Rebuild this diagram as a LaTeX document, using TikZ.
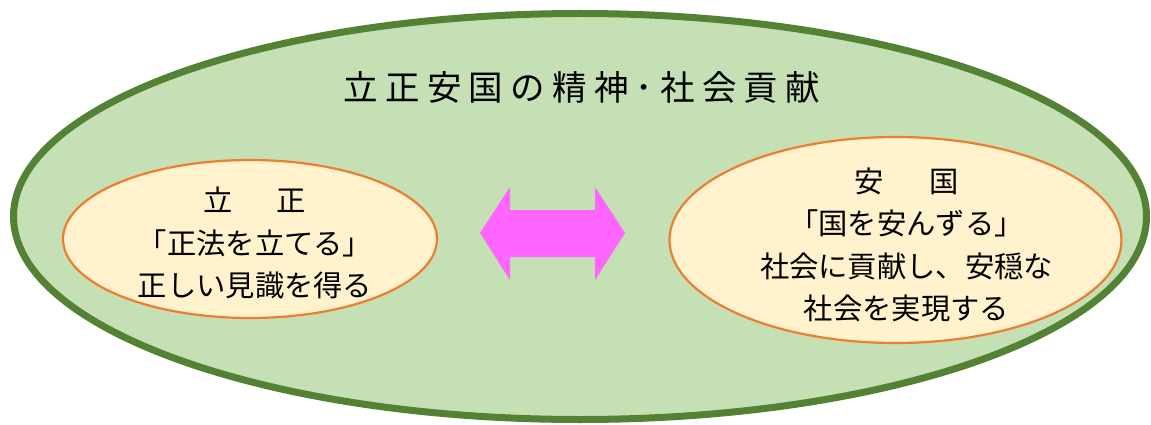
\documentclass[tikz,border=0pt]{standalone}
\usepackage{fontspec}
\setmainfont{Noto Sans CJK JP}
\newfontfamily\titlefont[LetterSpace=21]{Noto Sans CJK JP}
\definecolor{outerfill}{HTML}{C5E0B4}
\definecolor{outerline}{HTML}{548235}
\definecolor{innerfill}{HTML}{FFF2CC}
\definecolor{innerline}{HTML}{ED7D31}
\definecolor{arrowpink}{HTML}{FF66FF}
\tikzset{
  outerell/.style={fill=outerfill,draw=outerline,line width=7pt},
  innerell/.style={fill=innerfill,draw=innerline,line width=2.2pt},
  bodytext/.style={align=center,font=\fontsize{29.3}{42.3}\selectfont,inner sep=0pt},
}
\begin{document}
\begin{tikzpicture}[x=1pt,y=-1pt]
\useasboundingbox (0,0) rectangle (1151,425);
\draw[outerell] (580,216.5) ellipse [x radius=566.5, y radius=203];
\draw[innerell] (250,239) ellipse [x radius=187, y radius=79];
\draw[innerell] (895.5,240) ellipse [x radius=226, y radius=103];
\node[inner sep=0pt,font=\titlefont\fontsize{34.5}{40}\selectfont] (title) at (582,87) {立正安国の精神･社会貢献};
\node[bodytext] (left) at (255,243) {立\hspace{43.5pt}正\\「正法を立てる」\\正しい見識を得る};
\node[bodytext] (right) at (906.5,245) {安\hspace{46pt}国\\「国を安んずる」\\社会に貢献し、安穏な\\社会を実現する};
\fill[arrowpink] (480,233) -- (510,187) -- (510,210) -- (595,210) -- (595,187) -- (625,233) -- (595,280) -- (595,257) -- (510,257) -- (510,280) -- cycle;
\end{tikzpicture}
\end{document}
